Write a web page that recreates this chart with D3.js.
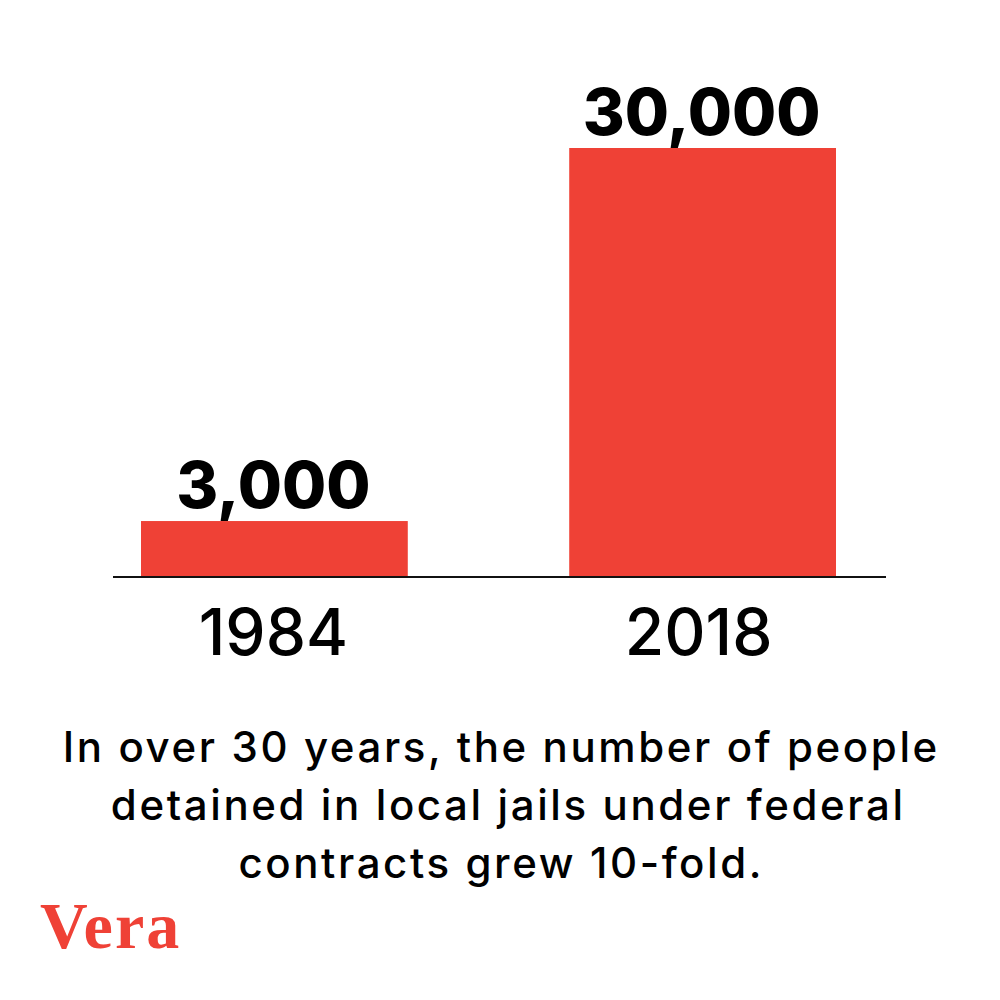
<!DOCTYPE html>
<html><head><meta charset="utf-8">
<script src="https://cdn.jsdelivr.net/npm/d3@7"></script>
<style>html,body{margin:0;padding:0;background:#fff;}</style>
</head><body>
<svg id="chart" width="1000" height="1000"></svg>
<script>
const categories = ["1984", "2018"];
const values = [3000, 30000];
const valueLabels = ["3,000", "30,000"];
const captionLines = [
  "In over 30 years, the number of people",
  " detained in local jails under federal",
  "contracts grew 10-fold."
];
const logoText = "Vera";

const RED = "#ef4136";
const FONT = "Inter, 'Noto Sans', sans-serif";
const svg = d3.select("#chart");
svg.append("rect").attr("width",1000).attr("height",1000).attr("fill","#fff");

const baseY = 577;
const x = d3.scaleBand().domain(categories).range([141, 836]).paddingInner(0.377).paddingOuter(0);
const y = d3.scaleLinear().domain([-1050, 30000]).range([baseY, 148]);

svg.selectAll("rect.bar").data(values).join("rect").attr("class","bar")
  .attr("x",(d,i)=>x(categories[i])).attr("width",x.bandwidth())
  .attr("y",d=>y(d)).attr("height",d=>baseY - y(d)).attr("fill",RED);

svg.append("line").attr("x1",113).attr("x2",886).attr("y1",baseY).attr("y2",baseY)
  .attr("stroke","#111").attr("stroke-width",2);

svg.selectAll("text.val").data(values).join("text").attr("class","val")
  .attr("x",(d,i)=>x(categories[i])+x.bandwidth()/2-1)
  .attr("y",d=>y(d)-13)
  .attr("text-anchor","middle").attr("font-family",FONT).attr("font-weight",800)
  .attr("font-size",64).attr("fill","#000")
  .text((d,i)=>valueLabels[i]);

svg.selectAll("text.cat").data(categories).join("text").attr("class","cat")
  .attr("x",(d,i)=>x(d)+x.bandwidth()/2-(i?4:1))
  .attr("y",655)
  .attr("text-anchor","middle").attr("font-family",FONT).attr("font-weight",500)
  .attr("font-size",64).attr("fill","#000")
  .text(d=>d);

svg.selectAll("text.cap").data(captionLines).join("text").attr("class","cap")
  .attr("x",501.3).attr("y",(d,i)=>762+i*58)
  .attr("text-anchor","middle").attr("font-family",FONT).attr("font-weight",500)
  .attr("font-size",42).attr("letter-spacing",2.6).attr("fill","#000").attr("xml:space","preserve")
  .style("white-space","pre")
  .text(d=>d);

svg.append("text").attr("x",40).attr("y",948)
  .attr("font-family","'Liberation Serif', serif").attr("font-weight",700)
  .attr("font-size",66).attr("letter-spacing",2).attr("fill",RED).text(logoText);
</script>
</body></html>
